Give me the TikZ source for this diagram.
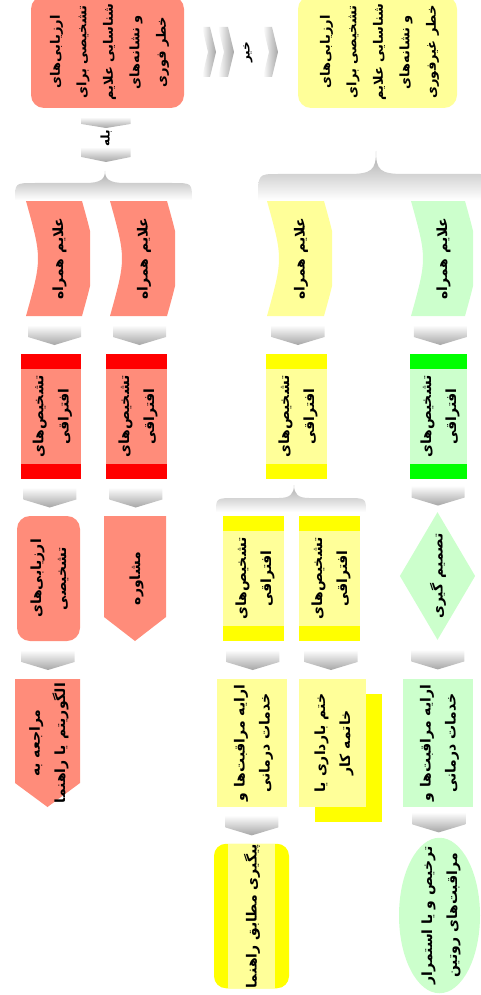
\documentclass[tikz,border=0pt]{standalone}
\usepackage{fontspec}
\usepackage{graphicx}
\usetikzlibrary{calc, shapes.geometric, shadows}
\TeXXeTstate=1
\newfontfamily\farsi[Script=Arabic]{DejaVu Sans}
\definecolor{urgentColor}{HTML}{FF8C7A}
\definecolor{urgentBand}{HTML}{FF0000}
\definecolor{laterColor}{HTML}{FFFF99}
\definecolor{laterBand}{HTML}{FFFF00}
\definecolor{routineColor}{HTML}{CCFFCC}
\definecolor{routineBand}{HTML}{00FF00}

\newcommand{\rl}[1]{\beginR #1\endR}
\newcommand{\fatext}[1]{\rotatebox{90}{\begin{tabular}{@{}c@{}}#1\end{tabular}}}

% gray block arrow in the gap between two nodes
\newcommand{\flowarrow}[2]{%
  \coordinate (m) at ($(#1.south)!0.5!(#2.north)$);
  \shade[top color=white, bottom color=gray!70, shift={(m)}]
    (-26.5,-10) -- (26.5,-10) -- (26.5,2) -- (0,10) -- (-26.5,2) -- cycle;}
\newcommand{\chevdown}[4]{%
  \shade[top color=white, bottom color=gray!70, shift={(#1)}]
    (-24.5,#2) -- (24.5,#2) -- (24.5,#3) -- (0,#4) -- (-24.5,#3) -- cycle;}
\newcommand{\chevright}[3]{%
  \shade[left color=white, right color=gray!70, shift={(#1)}]
    (#2,-25) -- (#3,-25) -- ({#3+6},0) -- (#3,25) -- (#2,25) -- ({#2+6},0) -- cycle;}
% brace: tip x, tip y, cusp half width, left x, right x, bar y, bottom y
\newcommand{\fanout}[7]{%
  \shade[top color=gray!65, bottom color=white]
    (#4,#7) .. controls (#4,#6) .. ({#4+20},#6) -- ({#1-#3},#6)
    .. controls ({#1-4},#6) and (#1,{#6-4}) .. (#1,#2)
    .. controls (#1,{#6-4}) and ({#1+4},#6) .. ({#1+#3},#6)
    -- ({#5-20},#6) .. controls (#5,#6) .. (#5,#7) -- cycle;}

\tikzset{
  box/.style={inner sep=0pt, font=\farsi\bfseries\fontsize{14}{25}\selectfont},
  dims/.style 2 args={minimum width=#1pt, minimum height=#2pt},
  tag/.style={inner sep=0pt, font=\farsi\bfseries\fontsize{12}{12}\selectfont},
  roundbox/.style={box, rounded corners=13pt, fill=#1},
  bandbox/.style 2 args={box, fill=#1, path picture={
    \fill[#2] (path picture bounding box.north west) rectangle ($(path picture bounding box.north east)+(0,15)$);
    \fill[#2] (path picture bounding box.south west) rectangle ($(path picture bounding box.south east)+(0,-15)$);}},
  curvedbox/.style={box, path picture={
    \fill[#1] (path picture bounding box.north west) -- ($(path picture bounding box.north east)+(-8,0)$)
      .. controls ($(path picture bounding box.east)+(8,0)$) .. ($(path picture bounding box.south east)+(-8,0)$)
      -- (path picture bounding box.south west)
      .. controls ($(path picture bounding box.west)+(16,0)$) .. (path picture bounding box.north west) -- cycle;}},
  pentbox/.style={box, path picture={
    \fill[#1] (path picture bounding box.north west) -- (path picture bounding box.north east)
      -- ($(path picture bounding box.south east)+(0,-24)$) -- (path picture bounding box.south)
      -- ($(path picture bounding box.south west)+(0,-24)$) -- cycle;}},
  sidebandbox/.style 2 args={box, rounded corners=12pt, fill=#2, path picture={
    \fill[#1, sharp corners] ($(path picture bounding box.north west)+(14,0)$) rectangle ($(path picture bounding box.south east)+(-14,0)$);}}
}

\begin{document}
\begin{tikzpicture}[x=1pt, y=-1pt]
  \useasboundingbox (0,0) rectangle (481,995);

  \node[roundbox=urgentColor, dims={153}{112}, font=\farsi\bfseries\fontsize{13}{26.5}\selectfont] (riskNow) at (107.5,52)
    {\fatext{\rl{ارزیابی‌های}\\\rl{تشخیصی برای}\\\rl{شناسایی علایم}\\\rl{و نشانه‌های}\\\rl{خطر فوری}}};
  \node[roundbox=laterColor, dims={159}{112}, font=\farsi\bfseries\fontsize{13}{26.5}\selectfont] (riskLater) at (377.5,52)
    {\fatext{\rl{ارزیابی‌های}\\\rl{تشخیصی برای}\\\rl{شناسایی علایم}\\\rl{و نشانه‌های}\\\rl{خطر غیرفوری}}};

  \node[tag] (noLabel) at (248,52) {\rotatebox{90}{\rl{خیر}}};
  \chevright{noLabel}{-46}{-38}
  \chevright{noLabel}{-30}{-20}
  \chevright{noLabel}{15}{24}

  \node[tag] (yesLabel) at (106,138) {\rotatebox{90}{\rl{بله}}};
  \chevdown{yesLabel}{-21}{-14}{-10}
  \chevdown{yesLabel}{9}{19}{24}

  \fanout{105}{171}{20}{15}{192}{183}{200}
  \fanout{376}{151}{28}{258}{500}{174}{200}

  % associated signs
  \node[curvedbox=urgentColor, dims={64}{115}] (signA) at (58,258.5) {\fatext{\rl{علایم همراه}}};
  \node[curvedbox=urgentColor, dims={65}{115}] (signB) at (142.5,258.5) {\fatext{\rl{علایم همراه}}};
  \node[curvedbox=laterColor, dims={65}{115}] (signC) at (299.5,258.5) {\fatext{\rl{علایم همراه}}};
  \node[curvedbox=routineColor, dims={62}{115}] (signD) at (442,258.5) {\fatext{\rl{علایم همراه}}};

  % differential diagnoses
  \node[bandbox={urgentColor}{urgentBand}, dims={60}{125}] (diffA) at (51,416.5) {\fatext{\rl{تشخیص‌های}\\\rl{افتراقی}}};
  \node[bandbox={urgentColor}{urgentBand}, dims={61}{125}] (diffB) at (136.5,416.5) {\fatext{\rl{تشخیص‌های}\\\rl{افتراقی}}};
  \node[bandbox={laterColor}{laterBand}, dims={61}{125}] (diffC) at (296.5,416.5) {\fatext{\rl{تشخیص‌های}\\\rl{افتراقی}}};
  \node[bandbox={routineColor}{routineBand}, dims={57}{125}] (diffD) at (438.5,416.5) {\fatext{\rl{تشخیص‌های}\\\rl{افتراقی}}};

  \flowarrow{signA}{diffA}
  \flowarrow{signB}{diffB}
  \flowarrow{signC}{diffC}
  \flowarrow{signD}{diffD}

  \fanout{294}{485}{15}{216}{366}{498}{512}

  \node[roundbox=urgentColor, dims={63}{125}] (evalA) at (48.5,578.5) {\fatext{\rl{ارزیابی‌های}\\\rl{تشخیصی}}};
  \node[pentbox=urgentColor, dims={62}{125}] (consult) at (135,578.5) {\fatext{\rl{مشاوره}}};
  \node[bandbox={laterColor}{laterBand}, dims={61}{125}] (diffE) at (253.5,578.5) {\fatext{\rl{تشخیص‌های}\\\rl{افتراقی}}};
  \node[bandbox={laterColor}{laterBand}, dims={61}{125}] (diffF) at (329.5,578.5) {\fatext{\rl{تشخیص‌های}\\\rl{افتراقی}}};
  \node[box, diamond, aspect=0.59, fill=routineColor, dims={71}{120}] (decide) at (437.5,576) {\fatext{\rl{تصمیم گیری}}};

  \flowarrow{diffA}{evalA}
  \flowarrow{diffB}{consult}
  \flowarrow{diffD}{decide}

  \node[pentbox=urgentColor, dims={65}{128}] (refer) at (47.5,743) {\fatext{\rl{مراجعه به}\\\rl{الگوریتم یا راهنما}}};
  \node[box, fill=laterColor, dims={70}{128}] (careC) at (252,743) {\fatext{\rl{ارایه مراقبت‌ها و}\\\rl{خدمات درمانی}}};
  \node[box, fill=laterColor, dims={67}{128},
    drop shadow={shadow xshift=16pt, shadow yshift=-15pt, fill=laterBand, opacity=1}] (stop) at (332.5,743)
    {\fatext{\rl{ختم بارداری یا}\\\rl{خاتمه کار}}};
  \node[box, fill=routineColor, dims={70}{128}] (careD) at (438,743) {\fatext{\rl{ارایه مراقبت‌ها و}\\\rl{خدمات درمانی}}};

  \flowarrow{evalA}{refer}
  \flowarrow{diffE}{careC}
  \flowarrow{diffF}{stop}
  \flowarrow{decide}{careD}

  \node[sidebandbox={laterColor}{laterBand}, dims={75}{142}] (follow) at (251.5,916) {\fatext{\rl{پیگیری مطابق راهنما}}};
  \node[box, ellipse, fill=routineColor, dims={81}{143}, inner xsep=0pt, inner ysep=-14pt] (discharge) at (439.5,915.5)
    {\fatext{\rl{ترخیص و یا استمرار}\\\rl{مراقبت‌های روتین}}};

  \flowarrow{careC}{follow}
  \flowarrow{careD}{discharge}
\end{tikzpicture}
\end{document}
